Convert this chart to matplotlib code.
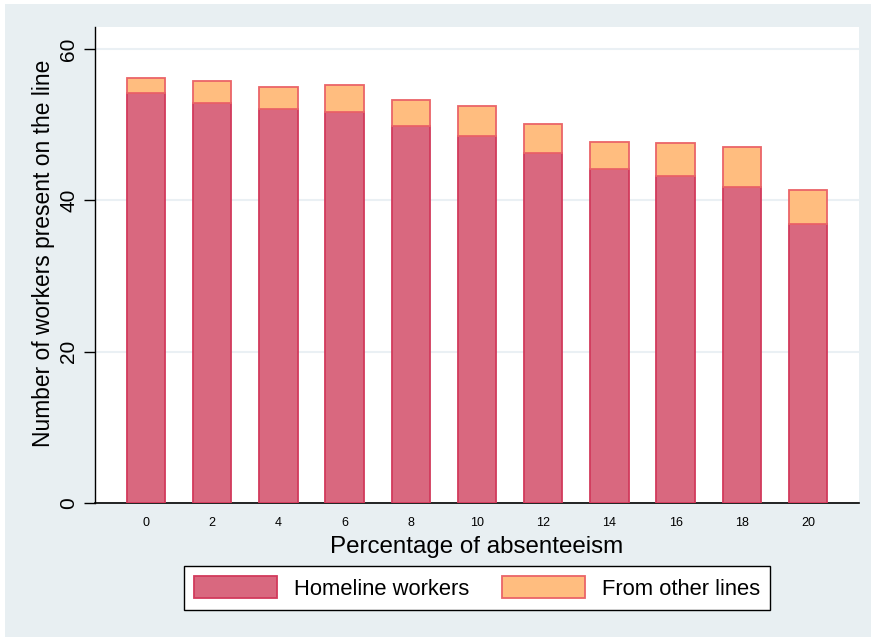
import matplotlib.pyplot as plt
from matplotlib.patches import Rectangle
import numpy as np

# Data
absenteeism = [0, 2, 4, 6, 8, 10, 12, 14, 16, 18, 20]
homeline = [54.2, 52.8, 52.1, 51.7, 49.8, 48.5, 46.2, 44.1, 43.2, 41.8, 36.9]
total = [56.1, 55.7, 55.0, 55.3, 53.3, 52.4, 50.1, 47.7, 47.6, 47.0, 41.4]
other_lines = [t - h for t, h in zip(total, homeline)]

plt.rcParams['font.family'] = ['Liberation Sans', 'DejaVu Sans']

fig = plt.figure(figsize=(8.71, 6.39), dpi=100)
fig.patch.set_facecolor('white')
# light graph region, like Stata's s2color scheme
fig.patches.append(Rectangle((5 / 871, 2 / 639), 866 / 871, 633 / 639,
                             transform=fig.transFigure, facecolor='#e8eff2',
                             edgecolor='none', zorder=-5))

ax = fig.add_axes([95 / 871, 1 - 503 / 639, 764 / 871, 476 / 639])
ax.set_facecolor('white')

x = np.arange(len(absenteeism))
w = 0.58
ax.bar(x, homeline, width=w, color='#d9687f', edgecolor='#d23a5c',
       linewidth=1.3, label='Homeline workers', zorder=3)
ax.bar(x, other_lines, width=w, bottom=homeline, color='#ffbd7f',
       edgecolor='#ea6468', linewidth=1.3, label='From other lines', zorder=3)

ax.set_xlim(-0.77, len(x) - 1 + 0.77)
ax.set_ylim(0, 62.9)
ax.set_xticks(x)
ax.set_xticklabels([str(a) for a in absenteeism], fontsize=9, stretch='condensed')
ax.tick_params(axis='x', length=0, pad=10)
ax.set_yticks([0, 20, 40, 60])
ax.set_yticklabels(['0', '20', '40', '60'], rotation=90, va='center', fontsize=15)
ax.tick_params(axis='y', length=8, width=1, pad=4)

ax.grid(axis='y', color='#eaf0f4', linewidth=1.5, zorder=0)
ax.set_axisbelow(True)
for side in ['top', 'right']:
    ax.spines[side].set_visible(False)
ax.spines['left'].set_linewidth(1)
ax.spines['bottom'].set_linewidth(1.2)

ax.set_xlabel('Percentage of absenteeism', fontsize=17.4, labelpad=5)
ax.set_ylabel('Number of workers present on the line', fontsize=16.4)
ax.yaxis.set_label_coords(-0.053, 0.525)

leg = fig.legend(loc='center', bbox_to_anchor=(477 / 871, 1 - 588 / 639), ncol=2,
                 fontsize=15.8, frameon=True, fancybox=False, handlelength=3.8,
                 handleheight=1.15, columnspacing=1.5, borderpad=0.45,
                 handletextpad=0.75)
leg.get_frame().set_edgecolor('black')
leg.get_frame().set_linewidth(1)
leg.get_frame().set_alpha(1)

fig.savefig('out.png', dpi=100)
